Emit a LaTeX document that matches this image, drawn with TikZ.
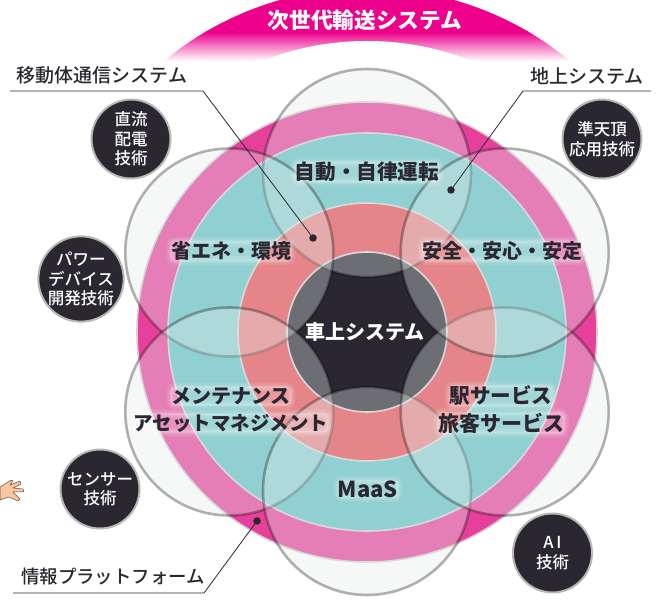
\documentclass[tikz,border=0pt]{standalone}
\usepackage{fontspec}
\setmainfont{Noto Sans CJK JP}
\newfontfamily\medfont{Noto Sans CJK JP Medium}
\usepackage{tikz}

\definecolor{archpink}{HTML}{EC008C}
\definecolor{ringpink}{HTML}{E6409A}
\definecolor{ringteal}{HTML}{62BFC5}
\definecolor{ringred}{HTML}{E74B54}
\definecolor{coredark}{HTML}{2A2730}
\definecolor{petalfill}{HTML}{E4ECEA}
\definecolor{skin}{HTML}{F7C59F}

\tikzset{
	ring/.style={draw=black!18, line width=1.6pt},
	petal/.style={fill=petalfill, fill opacity=.36, draw=black, draw opacity=.3, line width=2.6pt},
	tech/.style={circle, fill=coredark, draw=black!28, line width=2pt, minimum size=79pt, inner sep=0pt, align=center, text=white, font=\medfont\fontsize{16.5}{19.5}\selectfont},
	halo/.style={rounded corners=4pt, inner sep=0pt,
		preaction={draw=white, opacity=.1, line width=9pt},
		preaction={draw=white, opacity=.12, line width=5pt},
		preaction={draw=white, fill=white, opacity=.16, line width=2pt}},
	area/.style={halo, text=coredark, font=\fontsize{20}{20}\bfseries\selectfont},
	callout/.style={inner sep=0pt, text=coredark, font=\medfont\fontsize{19}{20}\selectfont},
	leader/.style={draw=coredark, line width=.8pt},
	dot/.style={circle, fill=coredark, inner sep=0pt, minimum size=7.5pt}
}

\begin{document}
\begin{tikzpicture}[x=1pt,y=-1pt]
	\useasboundingbox (0,0) rectangle (657,601);

	% arch along the top
	\begin{scope}
		\clip (367,307) circle (319);
		\fill[archpink] (0,0) rectangle (657,32);
		\shade[top color=archpink, bottom color=white] (0,32) rectangle (657,61);
	\end{scope}
	\fill[white] (367,326) circle (285);
	\node[inner sep=0pt, text=white, font=\fontsize{21.7}{22}\bfseries\selectfont] (title) at (365,20) {次世代輸送システム};

	% rings
	\filldraw[ring, fill=ringpink] (367,332) circle (230);
	\filldraw[ring, fill=ringteal] (367,332) circle (199);
	\filldraw[ring, fill=ringred] (367,332) circle (129);
	\filldraw[ring, fill=coredark] (367,332) circle (80);

	% six petals over the rings
	\foreach \ang in {90,150,210,270,330,30}
		\filldraw[petal] ({367+159*cos(\ang)},{332-159*sin(\ang)}) circle (104);

	% small technology circles
	\node[tech] (dc) at (131,139) {直流\\配電\\技術};
	\node[tech] (qzss) at (602,139) {準天頂\\応用技術};
	\node[tech] (power) at (81,279) {パワー\\デバイス\\開発技術};
	\node[tech] (sensor) at (100,489) {センサー\\技術};
	\node[tech] (ai) at (552.5,553) {A\,I\\技術};

	% hand at the left border
	\filldraw[fill=skin, draw=black!60!skin, line width=.5pt, line join=round] (0,487) -- (5,484) -- (11,480) -- (13,481) -- (10,485) -- (20,481) -- (21,484) -- (13,488) -- (23,489) -- (24,492) -- (13,492) -- (20,499) -- (18,501) -- (9,497) -- (0,500) -- cycle;

	% labels on the rings
	\node[area, font=\fontsize{20.6}{20}\bfseries\selectfont] (drive) at (367,172) {自動・自律運転};
	\node[area] (energy) at (231,251) {省エネ・環境};
	\node[area] (safe) at (502,251) {安全・安心・安定};
	\node[inner sep=0pt, text=white, font=\fontsize{20}{20}\bfseries\selectfont] (onboard) at (365,332) {車上システム};
	\node[area] (maint) at (231,396) {メンテナンス};
	\node[area, font=\fontsize{19.5}{20}\bfseries\selectfont] (asset) at (231,423) {アセットマネジメント};
	\node[area, font=\fontsize{20.6}{20}\bfseries\selectfont] (station) at (501,396) {駅サービス};
	\node[area, font=\fontsize{21}{20}\bfseries\selectfont] (passenger) at (501,423) {旅客サービス};
	\node[area, font=\fontsize{22}{20}\bfseries\selectfont] (maas) at (368,489) {MaaS};

	% callouts
	\node[callout] (mobile) at (102,75) {移動体通信システム};
	\node[callout] (ground) at (587,76) {地上システム};
	\node[callout, font=\medfont\fontsize{18.4}{20}\selectfont] (platform) at (113,577) {情報プラットフォーム};

	\node[dot] (mobiledot) at (313,238) {};
	\node[dot] (grounddot) at (451,190) {};
	\node[dot] (platformdot) at (257,521) {};

	\coordinate (mobileend) at (10,91);
	\coordinate (mobileknee) at (203,91);
	\coordinate (groundend) at (651,91);
	\coordinate (groundknee) at (523,91);
	\coordinate (platformend) at (13,593);
	\coordinate (platformknee) at (204,593);

	\draw[leader] (mobileend) -- (mobileknee) -- (mobiledot);
	\draw[leader] (groundend) -- (groundknee) -- (grounddot);
	\draw[leader] (platformend) -- (platformknee) -- (platformdot);
\end{tikzpicture}
\end{document}
